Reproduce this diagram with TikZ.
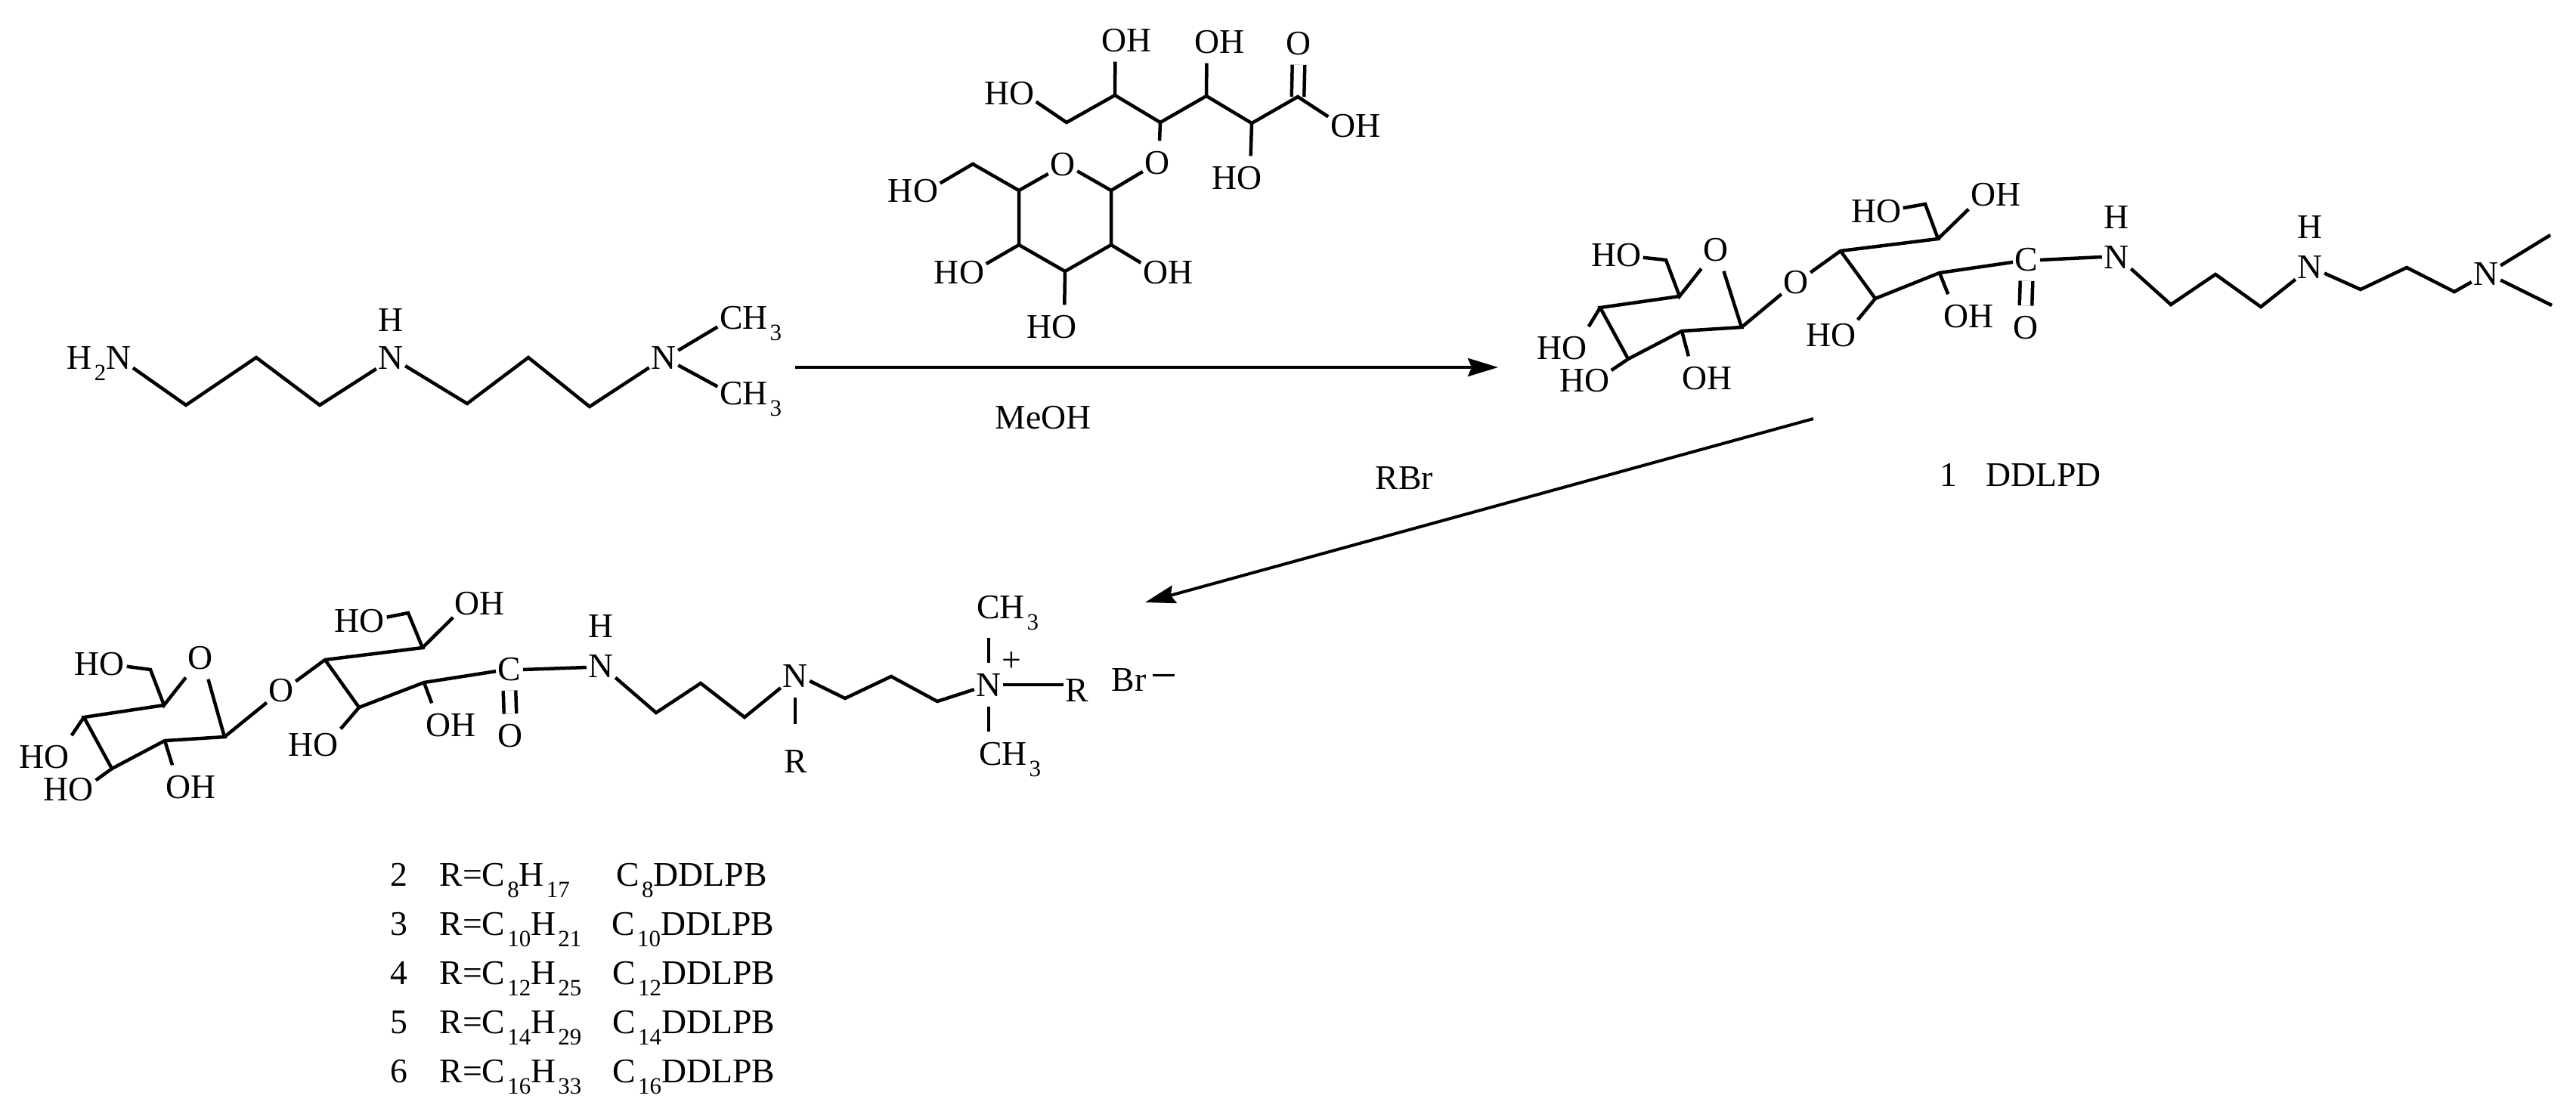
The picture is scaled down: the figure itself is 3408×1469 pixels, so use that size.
\documentclass[tikz,border=0pt]{standalone}
\usepackage{fontspec}
\setmainfont{Liberation Serif}
\usetikzlibrary{arrows.meta}
\newcommand{\lowsub}[1]{\hspace{0.03cm}\raisebox{-0.15cm}{\fontsize{8.8}{10}\selectfont #1}}
\tikzset{
    atom/.style={text height=0.30cm, text depth=0pt, inner xsep=0.02cm, inner ysep=0.13cm},
    caption/.style={text height=0.30cm, text depth=0pt, inner sep=0pt},
    bond/.style={line width=0.045cm},
    dbond/.style={line width=0.045cm, double, double distance=0.12cm},
    reaction/.style={line width=0.04cm, -{Stealth[length=0.40cm, width=0.24cm, inset=0.05cm]}}
}
\begin{document}
\begin{tikzpicture}[x=0.01cm, y=-0.01cm, font=\fontsize{13}{15}\selectfont]
    \useasboundingbox (0,0) rectangle (3408,1469);

    \node[atom] (ho1) at (1335,123) {HO};
    \node[atom] (oh1) at (1490,53) {OH};
    \node[atom] (oh2) at (1613,55) {OH};
    \node[atom] (o1) at (1718,57) {O};
    \node[atom] (oh3) at (1793,166) {OH};
    \node[atom] (ho2) at (1636,235) {HO};
    \node[atom] (o2) at (1531,215) {O};
    \node[atom] (o3) at (1406,217) {O};
    \node[atom] (ho3) at (1208,252) {HO};
    \node[atom] (oh4) at (1545,360) {OH};
    \node[atom] (ho4) at (1391,432) {HO};
    \node[atom] (ho5) at (1269,360) {HO};
    \coordinate (ga1) at (1411,162);
    \coordinate (ga2) at (1475,126);
    \coordinate (ga3) at (1535,162);
    \coordinate (ga4) at (1596,127);
    \coordinate (ga5) at (1656,163);
    \coordinate (ga6) at (1717,128);
    \coordinate (gb) at (1287,217);
    \coordinate (gr1) at (1470,252);
    \coordinate (gr2) at (1470,324);
    \coordinate (gr3) at (1409,359);
    \coordinate (gr4) at (1348,324);
    \coordinate (gr5) at (1348,252);
    \draw[dbond] (o1.south) -- (ga6);
    \draw[bond] (ho1.-18) -- (ga1) -- (ga2) -- (ga3) -- (ga4) -- (ga5) -- (ga6) -- (oh3.162);
    \draw[bond] (ga2) -- (oh1.-117);
    \draw[bond] (ga4) -- (oh2.-120);
    \draw[bond] (ga5) -- (ho2.57);
    \draw[bond] (ga3) -- (o2.84);
    \draw[bond] (o2.-148) -- (gr1) -- (gr2) -- (gr3) -- (gr4) -- (gr5) -- (o3.-146);
    \draw[bond] (gr1) -- (o3.-26);
    \draw[bond] (gr5) -- (gb) -- (ho3.15);
    \draw[bond] (gr2) -- (oh4.161);
    \draw[bond] (gr3) -- (ho4.59);
    \draw[bond] (gr4) -- (ho5.17);

    \node[atom] (h2n) at (131,473) {H\lowsub{2}N};
    \node[atom] (n1) at (517,473) {N};
    \node[atom] (h1) at (517,423) {H};
    \node[atom] (n2) at (878,473) {N};
    \node[atom] (me1) at (993,420) {CH\lowsub{3}};
    \node[atom] (me2) at (993,520) {CH\lowsub{3}};
    \coordinate (am1) at (246,536);
    \coordinate (am2) at (339,473);
    \coordinate (am3) at (423,536);
    \coordinate (am4) at (618,534);
    \coordinate (am5) at (699,473);
    \coordinate (am6) at (780,538);
    \draw[bond] (h2n.-17) -- (am1) -- (am2) -- (am3) -- (n1.-142);
    \draw[bond] (n1.-30) -- (am4) -- (am5) -- (am6) -- (n2.-145);
    \draw[bond] (n2.26) -- (me1.-164);
    \draw[bond] (n2.-28) -- (me2.169);

    \coordinate (start1) at (1052,486);
    \coordinate (end1) at (1982,486);
    \draw[reaction] (start1) -- (end1);
    \node[caption] (meoh) at (1380,552) {MeOH};
    \coordinate (start2) at (2399,554);
    \coordinate (end2) at (1515,797);
    \draw[reaction] (start2) -- (end2);
    \node[caption] (rbr) at (1858,632) {RBr};
    \node[caption] (ddlpd) at (2673,628) {1\hspace{0.38cm}DDLPD};

    \node[atom] (ho6) at (2138,337) {HO};
    \node[atom] (o4) at (2270,330) {O};
    \node[atom] (ho7) at (2066,460) {HO};
    \node[atom] (ho8) at (2096,503) {HO};
    \node[atom] (oh5) at (2258,500) {OH};
    \node[atom] (o5) at (2376,373) {O};
    \node[atom] (ho9) at (2482,279) {HO};
    \node[atom] (oh6) at (2640,257) {OH};
    \node[atom] (ho10) at (2422,443) {HO};
    \node[atom] (oh7) at (2604,418) {OH};
    \node[atom] (c1) at (2681,343) {C};
    \node[atom] (o8) at (2680,433) {O};
    \node[atom] (n4) at (2800,340) {N};
    \node[atom] (h2) at (2800,287) {H};
    \node[atom] (n5) at (3056,353) {N};
    \node[atom] (h3) at (3056,300) {H};
    \node[atom] (n6) at (3289,362) {N};
    \coordinate (pc1) at (2204,344);
    \coordinate (pr1) at (2222,392);
    \coordinate (pr2) at (2117,407);
    \coordinate (pr3) at (2154,475);
    \coordinate (pr4) at (2225,438);
    \coordinate (pr5) at (2304,433);
    \coordinate (pd1) at (2435,332);
    \coordinate (pd2) at (2564,316);
    \coordinate (pd3) at (2547,270);
    \coordinate (pd4) at (2481,395);
    \coordinate (pd5) at (2566,361);
    \coordinate (pe1) at (2872,403);
    \coordinate (pe2) at (2931,363);
    \coordinate (pe3) at (2991,406);
    \coordinate (pe4) at (3123,383);
    \coordinate (pe5) at (3184,354);
    \coordinate (pe6) at (3247,386);
    \coordinate (tip1) at (3374,311);
    \coordinate (tip2) at (3376,404);
    \draw[dbond] (c1.south) -- (o8.north);
    \draw[bond] (ho6.-6) -- (pc1) -- (pr1) -- (o4.-127);
    \draw[bond] (o4.-70) -- (pr5) -- (pr4) -- (pr3) -- (pr2) -- (pr1);
    \draw[bond] (pr2) -- (ho7.38);
    \draw[bond] (pr3) -- (ho8.20);
    \draw[bond] (pr4) -- (oh5.130);
    \draw[bond] (pr5) -- (o5.-140);
    \draw[bond] (o5.33) -- (pd1) -- (pd2) -- (pd3) -- (ho9.6);
    \draw[bond] (pd2) -- (oh6.-151);
    \draw[bond] (pd1) -- (pd4) -- (pd5) -- (c1.-168);
    \draw[bond] (pd4) -- (ho10.29);
    \draw[bond] (pd5) -- (oh7.133);
    \draw[bond] (c1.-3) -- (n4.180);
    \draw[bond] (n4.-39) -- (pe1) -- (pe2) -- (pe3) -- (n5.-139);
    \draw[bond] (n5.-24) -- (pe4) -- (pe5) -- (pe6) -- (n6.-150);
    \draw[bond] (n6.29) -- (tip1);
    \draw[bond] (n6.-24) -- (tip2);

    \node[atom] (ho11) at (132,878) {HO};
    \node[atom] (o6) at (265,870) {O};
    \node[atom] (ho12) at (59,1001) {HO};
    \node[atom] (ho13) at (91,1044) {HO};
    \node[atom] (oh8) at (253,1041) {OH};
    \node[atom] (o7) at (372,913) {O};
    \node[atom] (ho14) at (476,821) {HO};
    \node[atom] (oh9) at (635,798) {OH};
    \node[atom] (ho15) at (415,985) {HO};
    \node[atom] (oh10) at (597,959) {OH};
    \node[atom] (c2) at (674,885) {C};
    \node[atom] (o9) at (675,973) {O};
    \node[atom] (n7) at (795,881) {N};
    \node[atom] (h4) at (795,828) {H};
    \node[atom] (n8) at (1052,894) {N};
    \node[atom] (r1) at (1053,1007) {R};
    \node[atom] (n9) at (1308,906) {N};
    \node[inner sep=0pt] (plus) at (1338,876) {+};
    \node[atom] (me3) at (1333,803) {CH\lowsub{3}};
    \node[atom] (me4) at (1336,997) {CH\lowsub{3}};
    \node[atom] (r2) at (1425,913) {R};
    \node[caption] (br) at (1514,899) {Br\hspace{0.06cm}{\fontsize{17.6}{18}\selectfont −}};
    \coordinate (qc1) at (199,886);
    \coordinate (qr1) at (217,933);
    \coordinate (qr2) at (111,949);
    \coordinate (qr3) at (148,1017);
    \coordinate (qr4) at (218,980);
    \coordinate (qr5) at (297,975);
    \coordinate (qd1) at (430,873);
    \coordinate (qd2) at (559,857);
    \coordinate (qd3) at (540,811);
    \coordinate (qd4) at (475,936);
    \coordinate (qd5) at (561,903);
    \coordinate (qe1) at (868,943);
    \coordinate (qe2) at (927,904);
    \coordinate (qe3) at (985,949);
    \coordinate (qe4) at (1118,924);
    \coordinate (qe5) at (1179,895);
    \coordinate (qe6) at (1240,928);
    \draw[dbond] (c2.south) -- (o9.north);
    \draw[bond] (ho11.-6) -- (qc1) -- (qr1) -- (o6.-126);
    \draw[bond] (o6.-70) -- (qr5) -- (qr4) -- (qr3) -- (qr2) -- (qr1);
    \draw[bond] (qr2) -- (ho12.38);
    \draw[bond] (qr3) -- (ho13.18);
    \draw[bond] (qr4) -- (oh8.131);
    \draw[bond] (qr5) -- (o7.-139);
    \draw[bond] (o7.31) -- (qd1) -- (qd2) -- (qd3) -- (ho14.7);
    \draw[bond] (qd2) -- (oh9.-152);
    \draw[bond] (qd1) -- (qd4) -- (qd5) -- (c2.-170);
    \draw[bond] (qd4) -- (ho15.30);
    \draw[bond] (qd5) -- (oh10.132);
    \draw[bond] (c2.-3) -- (n7.-174);
    \draw[bond] (n7.-39) -- (qe1) -- (qe2) -- (qe3) -- (n8.-140);
    \draw[bond] (n8.-20) -- (qe4) -- (qe5) -- (qe6) -- (n9.-162);
    \draw[bond, shorten >=0.2cm] (n8.south) -- (n8.south |- r1.north);
    \draw[bond, shorten >=0.12cm] (n9.north) -- (n9.north |- me3.south);
    \draw[bond] (n9.south) -- (n9.south |- me4.north);
    \draw[bond] (n9.east) -- (n9.east -| r2.west);

    \node[caption] (num2) at (528,1157) {2};
    \node[caption, anchor=west] (r8) at (581,1157) {R=C\lowsub{8}H\lowsub{17}};
    \node[caption, anchor=west] (name8) at (815,1157) {C\lowsub{8}DDLPB};
    \node[caption] (num3) at (528,1222) {3};
    \node[caption, anchor=west] (r10) at (581,1222) {R=C\lowsub{10}H\lowsub{21}};
    \node[caption, anchor=west] (name10) at (809,1222) {C\lowsub{10}DDLPB};
    \node[caption] (num4) at (528,1287) {4};
    \node[caption, anchor=west] (r12) at (581,1287) {R=C\lowsub{12}H\lowsub{25}};
    \node[caption, anchor=west] (name12) at (810,1287) {C\lowsub{12}DDLPB};
    \node[caption] (num5) at (528,1352) {5};
    \node[caption, anchor=west] (r14) at (581,1352) {R=C\lowsub{14}H\lowsub{29}};
    \node[caption, anchor=west] (name14) at (810,1352) {C\lowsub{14}DDLPB};
    \node[caption] (num6) at (528,1417) {6};
    \node[caption, anchor=west] (r16) at (581,1417) {R=C\lowsub{16}H\lowsub{33}};
    \node[caption, anchor=west] (name16) at (810,1417) {C\lowsub{16}DDLPB};
\end{tikzpicture}
\end{document}
